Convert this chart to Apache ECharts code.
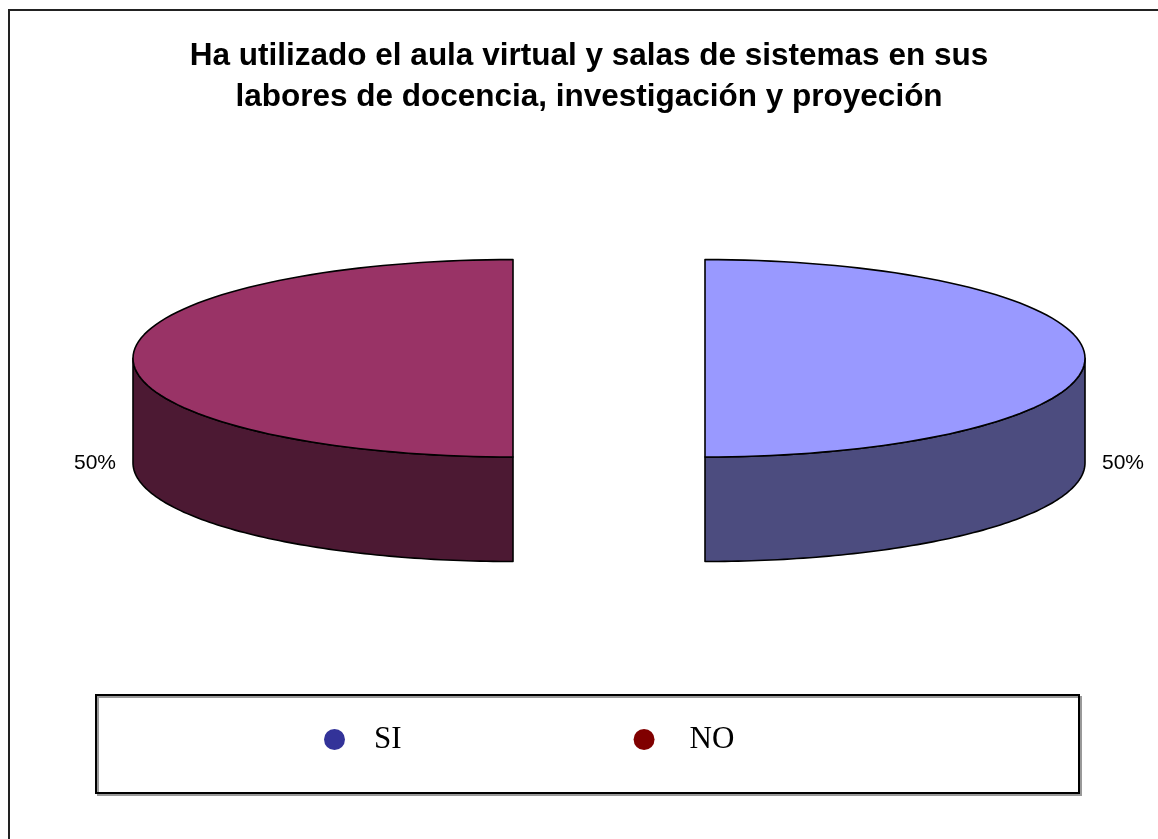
<!DOCTYPE html>
<html>
<head>
<meta charset="utf-8">
<style>
html,body{margin:0;padding:0;background:#fff;}
#chart{width:1158px;height:839px;}
</style>
<script src="https://cdn.jsdelivr.net/npm/echarts@6/dist/echarts.min.js"></script>
</head>
<body>
<div id="chart"></div>
<script>
// ---- data ----
var categories = ['SI', 'NO'];
var values = [50, 50];
var titleText = 'Ha utilizado el aula virtual y salas de sistemas en sus\nlabores de docencia, investigación y proyeción';

// ---- styles ----
var topColors = ['#9999FF', '#993366'];
var sideColors = ['#4C4C7F', '#4C1933'];
var legendColors = ['#333399', '#800000'];
var legendTextPad = [24, 30];

// ---- layout ----
var PIE = { cx: 609, cy: 358.3, rx: 380, ry: 98.7, depth: 104.5, explode: 96, labelGap: 38 };

var chart = echarts.init(document.getElementById('chart'));

function sum(arr, n) { var s = 0; for (var i = 0; i < n; i++) s += arr[i]; return s; }

function makeRender(idx) {
  return function (params, api) {
    var total = sum(values, values.length);
    var v = api.value(0);
    var start = sum(values, idx) / total * Math.PI * 2;
    var end = start + v / total * Math.PI * 2;
    var mid = (start + end) / 2;
    var cx = PIE.cx + PIE.explode * Math.sin(mid);
    var cy = PIE.cy - PIE.explode * Math.cos(mid) * PIE.ry / PIE.rx;
    function pt(t, dy) { return [cx + PIE.rx * Math.sin(t), cy - PIE.ry * Math.cos(t) + (dy || 0)]; }
    var N = 90, i, t;
    var children = [];
    // front curved side
    var ranges = [[Math.PI / 2, Math.PI * 1.5], [Math.PI * 2.5, Math.PI * 3.5]];
    ranges.forEach(function (r) {
      var lo = Math.max(start, r[0]), hi = Math.min(end, r[1]);
      if (hi > lo) {
        var pts = [];
        for (i = 0; i <= N; i++) { t = lo + (hi - lo) * i / N; pts.push(pt(t)); }
        for (i = N; i >= 0; i--) { t = lo + (hi - lo) * i / N; pts.push(pt(t, PIE.depth)); }
        children.push({
          type: 'polygon', shape: { points: pts },
          style: { fill: sideColors[idx], stroke: '#000', lineWidth: 1.6, lineJoin: 'round' }
        });
      }
    });
    // top face
    var tp = [[cx, cy]];
    for (i = 0; i <= N; i++) { t = start + (end - start) * i / N; tp.push(pt(t)); }
    children.push({
      type: 'polygon', shape: { points: tp },
      style: { fill: topColors[idx], stroke: '#000', lineWidth: 1.6, lineJoin: 'round' }
    });
    // label
    var lx = cx + (PIE.rx + PIE.labelGap) * Math.sin(mid);
    var ly = cy - PIE.ry * Math.cos(mid) + PIE.depth;
    children.push({
      type: 'text',
      style: {
        x: lx, y: ly, text: Math.round(v / total * 100) + '%',
        font: '21px "Liberation Sans", Arial, sans-serif', fill: '#000',
        align: 'center', verticalAlign: 'middle'
      }
    });
    return { type: 'group', children: children };
  };
}

var series = categories.map(function (name, idx) {
  return {
    type: 'custom',
    name: name,
    coordinateSystem: 'none',
    data: [[values[idx]]],
    itemStyle: { color: legendColors[idx] },
    renderItem: makeRender(idx),
    animation: false
  };
});

chart.setOption({
  backgroundColor: '#fff',
  animation: false,
  title: {
    text: titleText,
    left: 589,
    textAlign: 'center',
    top: 36,
    padding: 0,
    textStyle: {
      fontFamily: '"Liberation Sans", Arial, sans-serif',
      fontWeight: 'bold', fontSize: 31.5, lineHeight: 41, color: '#000'
    }
  },
  graphic: [
    { type: 'rect', z: -10, shape: { x: 9, y: 10, width: 1400, height: 1000 },
      style: { fill: 'none', stroke: '#222', lineWidth: 2 } },
    { type: 'rect', z: 0, shape: { x: 96, y: 695, width: 983, height: 98 },
      style: { fill: '#fff', stroke: '#000', lineWidth: 2, shadowColor: '#999', shadowOffsetX: 2, shadowOffsetY: 2, shadowBlur: 0 } }
  ],
  legend: {
    data: categories.map(function (name, idx) {
      return { name: name, textStyle: { padding: [0, 0, 0, legendTextPad[idx]] } };
    }),
    orient: 'horizontal',
    left: 319,
    top: 719,
    icon: 'circle',
    itemWidth: 21,
    itemHeight: 21,
    itemGap: 232,
    selectedMode: false,
    textStyle: {
      fontFamily: '"Liberation Serif", "Times New Roman", serif',
      fontSize: 31, color: '#000'
    }
  },
  series: series
});
</script>
</body>
</html>
